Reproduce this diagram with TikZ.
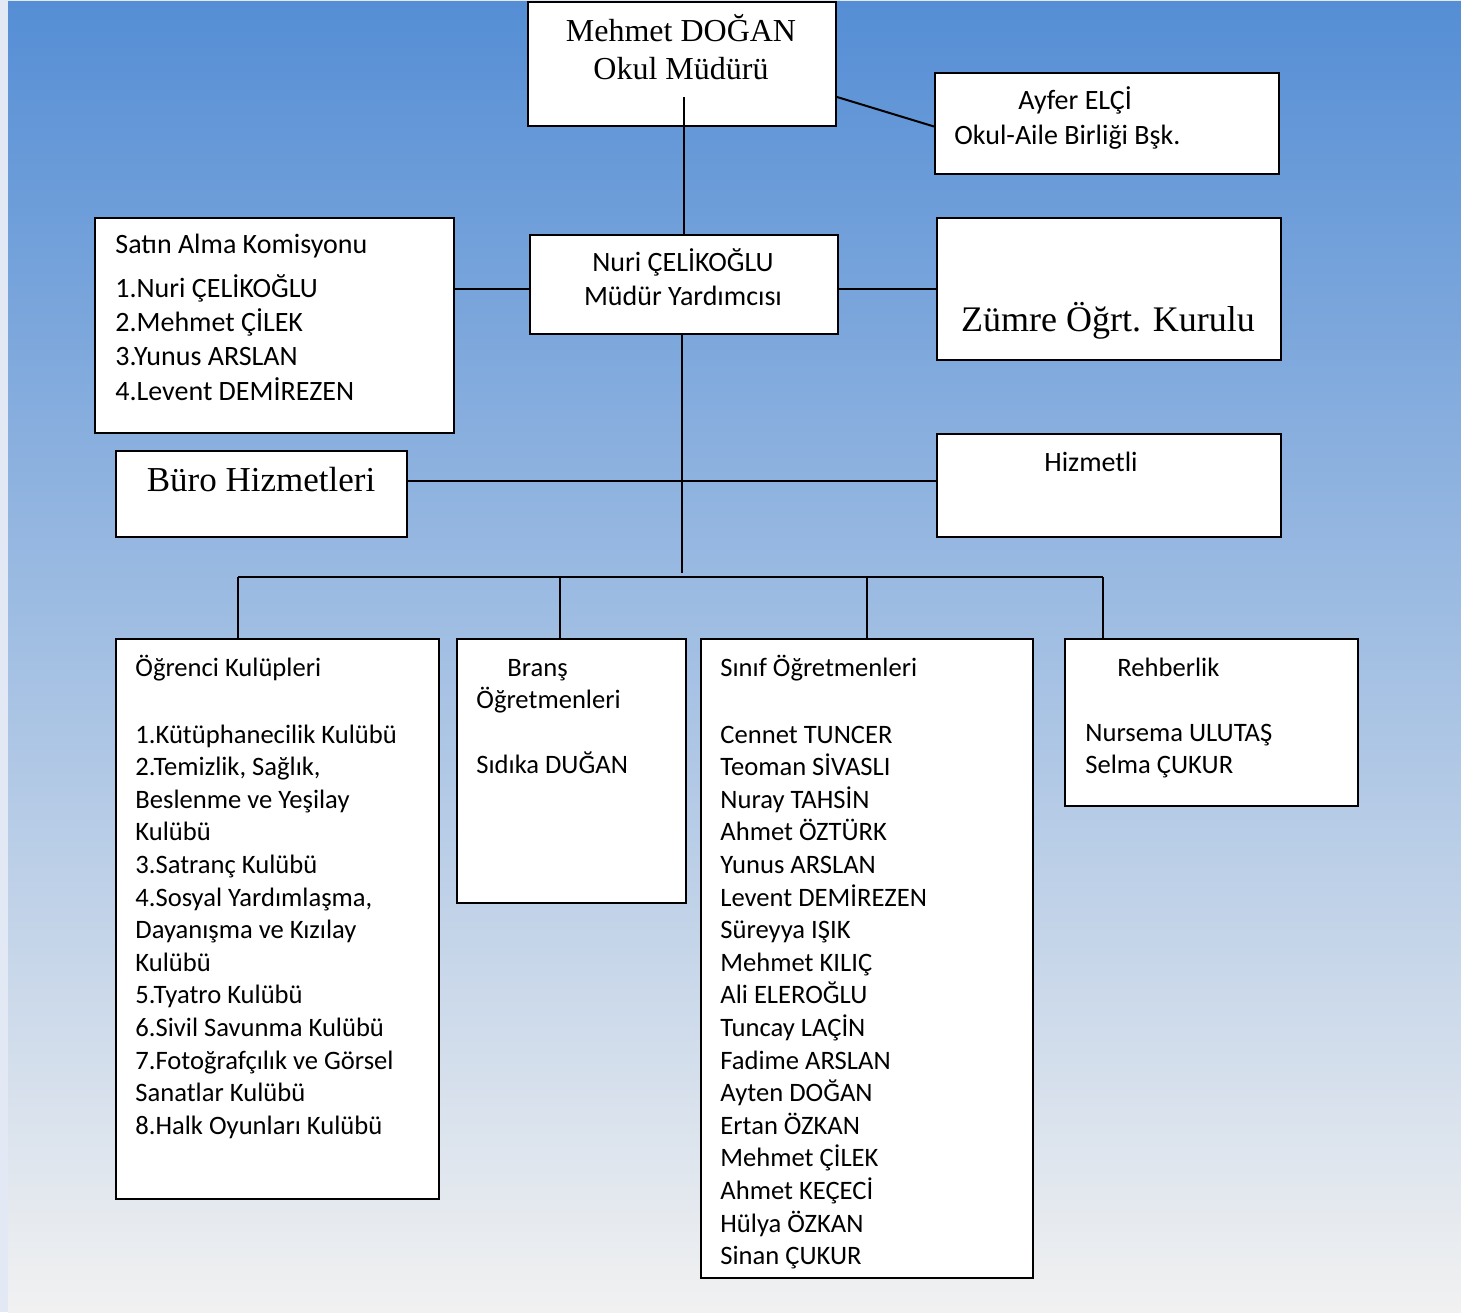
\documentclass[tikz,border=0pt]{standalone}
\usepackage{fontspec}
\setmainfont{Carlito}
\newfontfamily\serifyazi{Liberation Serif}
\usetikzlibrary{positioning,
	calc}

\definecolor{bgtop}{RGB}{85,142,213}
\definecolor{bgmid}{RGB}{168,194,229}
\definecolor{bgbot}{RGB}{241,241,241}
\definecolor{bgkenar}{RGB}{226,233,244}

\tikzset{
	kutu/.style={draw=black, line width=1pt, fill=white, rectangle, inner sep=0pt, anchor=north west},
	yazi/.style={inner sep=0pt, anchor=base west, font=\fontsize{13.3}{16}\selectfont},
	yazib/.style={inner sep=0pt, anchor=base west, font=\fontsize{14}{17}\selectfont},
	ortayazi/.style={inner sep=0pt, anchor=base, font=\fontsize{14}{17}\selectfont},
	seriflik/.style={inner sep=0pt, anchor=base, font=\serifyazi\fontsize{16}{19}\selectfont},
	hat/.style={line width=1pt},
}

\begin{document}
\begin{tikzpicture}[x=0.5pt,y=-0.5pt]
\useasboundingbox (0,0) rectangle (1461,1312);
\fill[bgkenar] (0,0) rectangle (1461,1312);
\shade[top color=bgtop, middle color=bgmid, bottom color=bgbot] (8,1) rectangle (1461,1312);

% kutular
\node[kutu, minimum width=154pt, minimum height=62pt] (mudur) at (527,1) {};
\node[kutu, minimum width=172pt, minimum height=50.5pt] (ayfer) at (934,72) {};
\node[kutu, minimum width=179.5pt, minimum height=107.5pt] (satin) at (94,217) {};
\node[kutu, minimum width=154pt, minimum height=49.5pt] (nuri) at (529,234) {};
\node[kutu, minimum width=172pt, minimum height=71pt] (zumre) at (936,217) {};
\node[kutu, minimum width=145.5pt, minimum height=43pt] (buro) at (115,450) {};
\node[kutu, minimum width=172pt, minimum height=51.5pt] (hizmetli) at (936,433) {};
\node[kutu, minimum width=161.5pt, minimum height=280pt] (ogrenci) at (115,638) {};
\node[kutu, minimum width=114.5pt, minimum height=132pt] (brans) at (456,638) {};
\node[kutu, minimum width=166pt, minimum height=319.5pt] (sinif) at (700,638) {};
\node[kutu, minimum width=146.5pt, minimum height=83.5pt] (rehber) at (1064,638) {};

% baglantilar
\coordinate (m-ic) at (684,97);
\coordinate (yan) at (683,289);
\coordinate (hub) at (682,573);
\coordinate (orta) at (682,481);
\draw[hat] (m-ic) -- (m-ic |- nuri.north);
\draw[hat] (mudur.east |- m-ic) -- ($(ayfer.west)+(0,3)$);
\draw[hat] (nuri.west |- yan) -- (satin.east |- yan);
\draw[hat] (nuri.east |- yan) -- (zumre.west |- yan);
\draw[hat] (hub |- nuri.south) -- (hub);
\draw[hat] (buro.east |- orta) -- (hizmetli.west |- orta);

\coordinate (d-ogrenci) at (238,577);
\coordinate (d-brans) at (560,577);
\coordinate (d-sinif) at (867,577);
\coordinate (d-rehber) at (1103,577);
\draw[hat] (d-ogrenci) -- (d-rehber);
\foreach \b in {ogrenci,brans,sinif,rehber}
	\draw[hat] (d-\b) -- (d-\b |- \b.north);

% yazilar
\node[seriflik] (mudur-1) at (681,41) {Mehmet DOĞAN};
\node[seriflik] (mudur-2) at (681,79) {Okul Müdürü};
\node[yazib] (ayfer-1) at (1018,109) {Ayfer ELÇİ};
\node[yazib] (ayfer-2) at (954,144) {Okul-Aile Birliği Bşk.};

\node[yazib] (satin-0) at (115,253) {Satın Alma Komisyonu};
\foreach \t [count=\i from 1] in {1.Nuri ÇELİKOĞLU, 2.Mehmet ÇİLEK, 3.Yunus ARSLAN, 4.Levent DEMİREZEN}
	\node[yazib] (satin-\i) at (115,262.6+34.4*\i) {\t};

\node[ortayazi] (nuri-1) at (683,271) {Nuri ÇELİKOĞLU};
\node[ortayazi] (nuri-2) at (683,305) {Müdür Yardımcısı};

\node[seriflik, font=\serifyazi\fontsize{18}{21}\selectfont] (zumre-1) at (1108,331) {Zümre Öğrt. Kurulu};
\node[seriflik, font=\serifyazi\fontsize{17.5}{21}\selectfont] (buro-1) at (261,491) {Büro Hizmetleri};
\node[ortayazi] (hizmetli-1) at (1091,471) {Hizmetli};

\node[yazi] (ogrenci-0) at (135,676) {Öğrenci Kulüpleri};
\foreach \t [count=\i from 0] in {1.Kütüphanecilik Kulübü, {2.Temizlik, Sağlık,}, Beslenme ve Yeşilay, Kulübü,
	3.Satranç Kulübü, {4.Sosyal Yardımlaşma,}, Dayanışma ve Kızılay, Kulübü, 5.Tyatro Kulübü,
	6.Sivil Savunma Kulübü, 7.Fotoğrafçılık ve Görsel, Sanatlar Kulübü, 8.Halk Oyunları Kulübü}
	\node[yazi] (ogrenci-l\i) at (135,743+32.6*\i) {\t};

\node[yazi] (brans-0) at (507,676) {Branş};
\node[yazi] (brans-1) at (476,708) {Öğretmenleri};
\node[yazi] (brans-2) at (476,773) {Sıdıka DUĞAN};

\node[yazi] (sinif-0) at (720,676) {Sınıf Öğretmenleri};
\foreach \t [count=\i from 0] in {Cennet TUNCER, Teoman SİVASLI, Nuray TAHSİN, Ahmet ÖZTÜRK, Yunus ARSLAN,
	Levent DEMİREZEN, Süreyya IŞIK, Mehmet KILIÇ, Ali ELEROĞLU, Tuncay LAÇİN, Fadime ARSLAN,
	Ayten DOĞAN, Ertan ÖZKAN, Mehmet ÇİLEK, Ahmet KEÇECİ, Hülya ÖZKAN, Sinan ÇUKUR}
	\node[yazi] (sinif-l\i) at (720,743+32.6*\i) {\t};

\node[yazi] (rehber-0) at (1117,676) {Rehberlik};
\node[yazi] (rehber-1) at (1085,741) {Nursema ULUTAŞ};
\node[yazi] (rehber-2) at (1085,773) {Selma ÇUKUR};
\end{tikzpicture}
\end{document}
